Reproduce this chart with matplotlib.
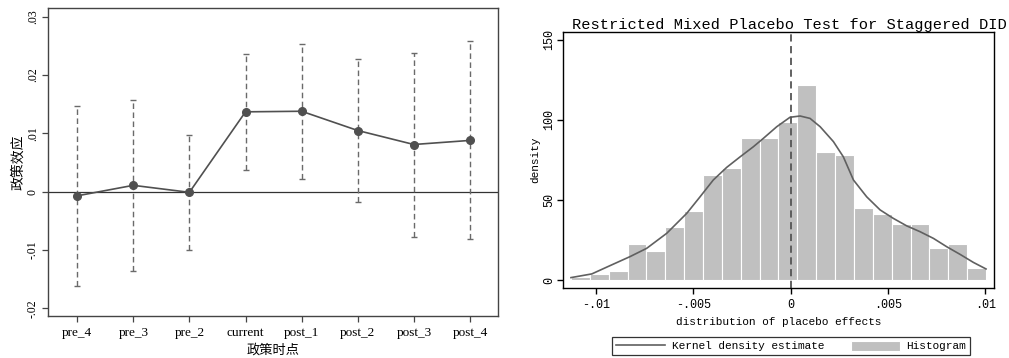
import matplotlib
matplotlib.use('Agg')
import matplotlib.pyplot as plt
import numpy as np

plt.rcParams['font.family'] = ['Liberation Serif', 'Noto Sans CJK SC']

# left panel: event-study coefficients
periods = ['pre_4', 'pre_3', 'pre_2', 'current', 'post_1', 'post_2', 'post_3', 'post_4']
coef = [-0.0007, 0.0011, -0.0001, 0.0137, 0.0138, 0.0105, 0.0081, 0.0088]
ci_low = [-0.0161, -0.0135, -0.0099, 0.0038, 0.0022, -0.0018, -0.0077, -0.0081]
ci_high = [0.0147, 0.0158, 0.0097, 0.0236, 0.0253, 0.0228, 0.0238, 0.0259]
ytick_vals = [-0.02, -0.01, 0, 0.01, 0.02, 0.03]
ytick_labels = ['-.02', '-.01', '0', '.01', '.02', '.03']

# right panel: placebo distribution
hist_start = -0.01129
hist_width = 0.000969
hist_heights = [1.7, 3.8, 5.6, 22.3, 18.1, 32.9, 43.1, 65.6, 69.8, 88.5, 88.5,
                99.0, 121.9, 80.2, 78.1, 45.2, 41.0, 34.8, 34.8, 20.2, 22.3, 7.7]
kde_x = [-0.01129, -0.01022, -0.00928, -0.00826, -0.00740, -0.00637, -0.00534,
         -0.00466, -0.00398, -0.00329, -0.00260, -0.00192, -0.00141, -0.00072,
         -0.00004, 0.00048, 0.00099, 0.00151, 0.00219, 0.00270, 0.00322, 0.00390,
         0.00459, 0.00527, 0.00596, 0.00664, 0.00733, 0.00801, 0.00870, 0.00938, 0.01003]
kde_y = [1.5, 3.8, 9.0, 14.6, 19.8, 29.2, 41.7, 52.0, 62.5, 70.4, 77.0, 83.3, 88.5,
         95.8, 101.7, 102.5, 101.0, 95.8, 86.5, 77.0, 62.5, 52.0, 43.8, 38.5, 33.8,
         30.2, 26.0, 20.8, 16.0, 11.0, 6.9]
xt2 = [-0.01, -0.005, 0, 0.005, 0.01]
xt2_labels = ['-.01', '-.005', '0', '.005', '.01']
yt2 = [0, 50, 100, 150]

W, H = 1009, 358
fig = plt.figure(figsize=(W / 100, H / 100), dpi=100)

# ---- left
ax1 = fig.add_axes([48 / W, 42 / H, 450 / W, 308 / H])
x = np.arange(len(periods))
ax1.axhline(0, color='#333333', lw=0.9, zorder=1)
ax1.vlines(x, ci_low, ci_high, colors='#6a6a6a', linestyles=(0, (4, 2.5)), lw=1, zorder=2)
ax1.plot(x, ci_low, ls='none', marker='_', ms=4, mew=1, color='#6a6a6a')
ax1.plot(x, ci_high, ls='none', marker='_', ms=4, mew=1, color='#6a6a6a')
ax1.plot(x, coef, '-o', color='#505050', lw=1.2, ms=5.5, zorder=3)

ax1.set_xlim(-0.52, 7.5)
ax1.set_ylim(-0.0213, 0.0315)
ax1.set_xticks(x)
ax1.set_xticklabels(periods, fontsize=9.5)
ax1.set_yticks(ytick_vals)
ax1.set_yticklabels(ytick_labels, rotation=90, va='center', fontsize=8.5)
ax1.tick_params(length=4, width=0.9, color='#444444')
ax1.tick_params(axis='y', pad=2.5)
ax1.tick_params(axis='x', pad=4)
for s in ax1.spines.values():
    s.set_color('#444444')
    s.set_linewidth(1)
ax1.set_xlabel('政策时点', fontsize=9.5, labelpad=3, family=['Noto Sans CJK SC'])
ax1.set_ylabel('政策效应', fontsize=10, labelpad=1.5, family=['Noto Sans CJK SC'])

# ---- right
mono = ['Liberation Mono']
ax2 = fig.add_axes([563 / W, 70 / H, 431 / W, 256 / H])
edges = hist_start + hist_width * np.arange(len(hist_heights) + 1)
bars = ax2.bar(edges[:-1], hist_heights, width=hist_width, align='edge',
               color='#c0c0c0', edgecolor='white', lw=0.8, label='Histogram')
kde_line, = ax2.plot(kde_x, kde_y, color='#606060', lw=1.2, label='Kernel density estimate')
ax2.axvline(0, color='#555555', ls=(0, (4, 2.5)), lw=1.3)
ax2.set_xlim(-0.0117, 0.01044)
ax2.set_ylim(-5, 155)
ax2.set_xticks(xt2)
ax2.set_xticklabels(xt2_labels, fontsize=8.5, family=mono)
ax2.set_yticks(yt2)
ax2.set_yticklabels([str(v) for v in yt2], rotation=90, va='center', fontsize=8.5, family=mono)
ax2.tick_params(length=4, width=1)
ax2.tick_params(axis='x', pad=4)
ax2.tick_params(axis='y', pad=1.5)
for s in ax2.spines.values():
    s.set_linewidth(1)
ax2.set_xlabel('distribution of placebo effects', fontsize=8, labelpad=4, family=mono)
ax2.set_ylabel('density', fontsize=8, labelpad=2, family=mono)

fig.text(572 / W, 1 - 29 / H, 'Restricted Mixed Placebo Test for Staggered DID',
         fontsize=11.1, family=mono, va='baseline', ha='left')

leg = fig.legend([kde_line, bars], ['Kernel density estimate', 'Histogram'],
                 loc='center', bbox_to_anchor=(791 / W, 1 - 346 / H), ncol=2,
                 prop={'family': mono, 'size': 8}, frameon=True, fancybox=False,
                 edgecolor='black', handlelength=4.4, handleheight=1.0,
                 handletextpad=0.6, columnspacing=2.4, borderpad=0.35)
leg.get_frame().set_linewidth(0.9)

fig.savefig('out.png', dpi=100)
